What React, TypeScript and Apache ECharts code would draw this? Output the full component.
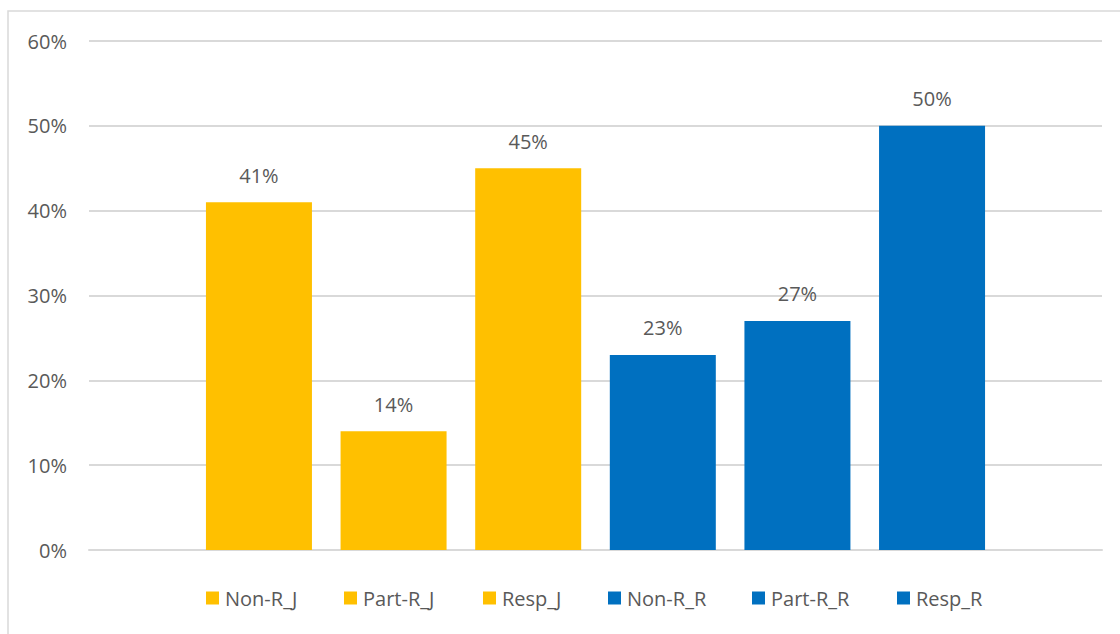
import React, { useEffect, useRef } from "react";
import * as echarts from "echarts";

// Response groups, one bar each
const seriesNames = ["Non-R_J", "Part-R_J", "Resp_J", "Non-R_R", "Part-R_R", "Resp_R"];
// Share of each group, in percent
const seriesValues = [41, 14, 45, 23, 27, 50];
const seriesColors = ["#FFC000", "#FFC000", "#FFC000", "#0070C0", "#0070C0", "#0070C0"];
const categories = [""];
const yTicks = { min: 0, max: 60, interval: 10 };

// left edge of each legend entry
const legendLefts = [201, 339, 478, 603, 747, 892];

const FONT = "'Open Sans', sans-serif";
const TEXT = "#595959";
const LINE = "#D9D9D9";

export default function App() {
  const ref = useRef<HTMLDivElement>(null);

  useEffect(() => {
    document.body.style.margin = "0";
    if (!ref.current) return;
    const chart = echarts.init(ref.current, undefined, { renderer: "svg" });

    chart.setOption({
      animation: false,
      backgroundColor: "#FFFFFF",
      textStyle: { fontFamily: FONT },
      grid: { left: 89, right: 18, top: 41, bottom: 84, containLabel: false },
      graphic: [
        {
          type: "rect",
          shape: { x: 8, y: 11, width: 1200, height: 700 },
          style: { fill: "none", stroke: LINE, lineWidth: 1.5 },
          silent: true,
          z: -10,
        },
      ],
      legend: seriesNames.map((name, i) => ({
        data: [name],
        left: legendLefts[i],
        top: 583,
        icon: "rect",
        itemWidth: 13,
        itemHeight: 13,
        selectedMode: false,
        textStyle: {
          color: TEXT,
          fontSize: 20,
          fontFamily: FONT,
          padding: [0, 0, 0, 1],
        },
      })),
      xAxis: {
        type: "category",
        data: categories,
        axisLine: { show: true, lineStyle: { color: LINE, width: 2 } },
        axisTick: { show: false },
        axisLabel: { show: false },
      },
      yAxis: {
        type: "value",
        min: yTicks.min,
        max: yTicks.max,
        interval: yTicks.interval,
        axisLine: { show: false },
        axisTick: { show: false },
        axisLabel: {
          formatter: "{value}%",
          color: TEXT,
          fontSize: 20,
          fontFamily: FONT,
          margin: 22,
        },
        splitLine: { lineStyle: { color: LINE, width: 2 } },
      },
      series: seriesNames.map((name, i) => ({
        name,
        type: "bar",
        data: [seriesValues[i]],
        barWidth: 106,
        barGap: "27%",
        itemStyle: { color: seriesColors[i] },
        label: {
          show: true,
          position: "top",
          distance: 17,
          formatter: "{c}%",
          color: TEXT,
          fontSize: 20,
          fontFamily: FONT,
        },
      })),
    });

    return () => chart.dispose();
  }, []);

  return <div ref={ref} style={{ width: 1120, height: 634 }} />;
}
